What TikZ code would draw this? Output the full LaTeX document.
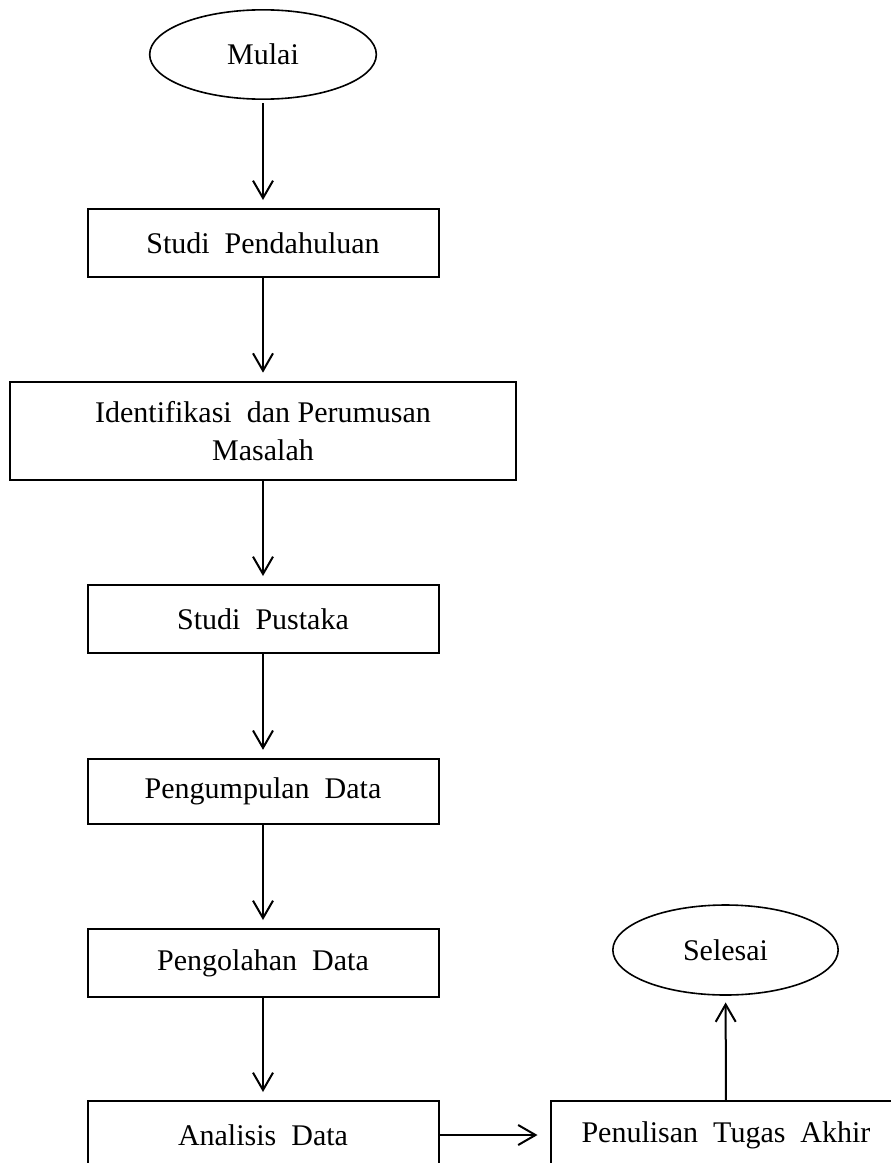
\documentclass[tikz,border=0pt]{standalone}
\usepackage{fontspec}
\setmainfont{Liberation Serif}
\usetikzlibrary{arrows.meta,shapes.geometric}

\begin{document}
\begin{tikzpicture}[x=0.75pt,y=-0.75pt,
font=\fontsize{22.5pt}{28.5pt}\selectfont,
box/.style={draw,line width=1.5pt,minimum width=263.25pt,minimum height=51pt,inner sep=0pt,align=center},
terminal/.style={draw,ellipse,line width=1.2pt,minimum width=170pt,minimum height=67pt,inner sep=0pt},
arrow/.style={-{Straight Barb[length=13pt,width=15pt]},line width=1.5pt,shorten >=6pt}]
\clip (0,0) rectangle (891,1163);
\node[terminal] (mulai) at (263,54.5) {Mulai};
\node[box] (pendahuluan) at (263,243) {Studi~~Pendahuluan};
\node[box,minimum width=379.5pt,minimum height=74pt] (identifikasi) at (263,431) {Identifikasi~~dan Perumusan\\Masalah};
\node[box] (pustaka) at (263,619) {Studi~~Pustaka};
\node[box,minimum height=49pt] (pengumpulan) at (263,791.5) {Pengumpulan~~Data};
\node[box] (pengolahan) at (263,963) {Pengolahan~~Data};
\node[box] (analisis) at (263,1135) {Analisis~~Data};
\node[box] (penulisan) at (726,1135) {Penulisan~~Tugas~~Akhir};
\node[terminal,minimum width=169pt,minimum height=67.5pt] (selesai) at (725.5,950) {Selesai};
\draw[arrow,shorten <=2.5pt] (mulai) -- (pendahuluan);
\draw[arrow] (pendahuluan) -- (identifikasi);
\draw[arrow] (identifikasi) -- (pustaka);
\draw[arrow] (pustaka) -- (pengumpulan);
\draw[arrow] (pengumpulan) -- (pengolahan);
\draw[arrow] (pengolahan) -- (analisis);
\draw[arrow,shorten >=9pt] (analisis) -- (penulisan);
\draw[arrow,shorten >=5pt] (penulisan) -- (selesai);
\end{tikzpicture}
\end{document}
